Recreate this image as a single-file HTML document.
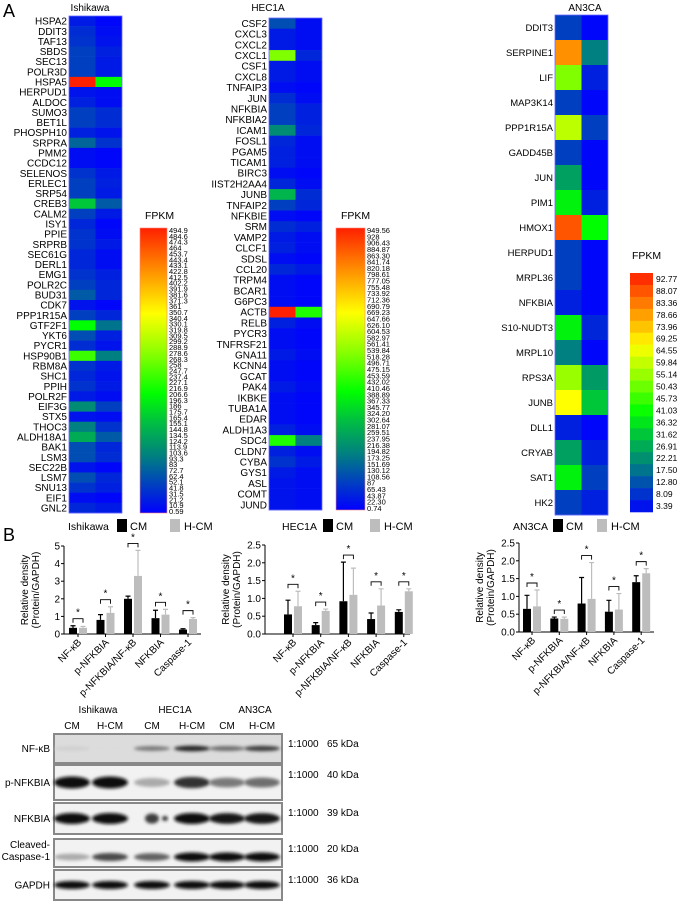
<!DOCTYPE html>
<html><head><meta charset="utf-8">
<style>
html,body{margin:0;padding:0;background:#fff;}
svg{display:block;font-family:"Liberation Sans",Arial,sans-serif;}
</style></head>
<body>
<svg id="fig" width="681" height="902" viewBox="0 0 681 902" xmlns="http://www.w3.org/2000/svg">
<defs>
<filter id="blur" x="-20%" y="-80%" width="140%" height="260%"><feGaussianBlur stdDeviation="1.6"/></filter>
<linearGradient id="jet" x1="0" y1="1" x2="0" y2="0">
<stop offset="0" stop-color="#0000ff"/><stop offset="0.1" stop-color="#0040c0"/><stop offset="0.2" stop-color="#008080"/>
<stop offset="0.32" stop-color="#00c040"/><stop offset="0.42" stop-color="#00ff00"/><stop offset="0.55" stop-color="#80ff00"/>
<stop offset="0.7" stop-color="#ffff00"/><stop offset="0.85" stop-color="#ff9000"/><stop offset="1" stop-color="#ff2000"/>
</linearGradient>
</defs>
<text x="3" y="17" font-size="18">A</text>
<text x="3" y="541" font-size="18">B</text>
</svg>
<script>
// ---------- Heatmap data ----------
const ishGenes = ["HSPA2","DDIT3","TAF13","SBDS","SEC13","POLR3D","HSPA5","HERPUD1","ALDOC","SUMO3","BET1L","PHOSPH10","SRPRA","PMM2","CCDC12","SELENOS","ERLEC1","SRP54","CREB3","CALM2","ISY1","PPIE","SRPRB","SEC61G","DERL1","EMG1","POLR2C","BUD31","CDK7","PPP1R15A","GTF2F1","YKT6","PYCR1","HSP90B1","RBM8A","SHC1","PPIH","POLR2F","EIF3G","STX5","THOC3","ALDH18A1","BAK1","LSM3","SEC22B","LSM7","SNU13","EIF1","GNL2"];
const ishCMHeat = [0.04,0.07,0.08,0.1,0.1,0.1,1,0.03,0.05,0.1,0.1,0.05,0.16,0.02,0.02,0.08,0.1,0.1,0.33,0.1,0.06,0.08,0.08,0.06,0.06,0.08,0.1,0.14,0.03,0.1,0.42,0.12,0.07,0.48,0.08,0.06,0.08,0.04,0.22,0.03,0.2,0.28,0.12,0.12,0.03,0.12,0.08,0.02,0.06];
const ishHCMHeat = [0.01,0.02,0.03,0.05,0.04,0.04,0.42,0.02,0.02,0.07,0.07,0.03,0.08,0.01,0.01,0.04,0.05,0.04,0.14,0.04,0.01,0.02,0.04,0.02,0.02,0.05,0.06,0.06,0.01,0.06,0.18,0.05,0.03,0.2,0.04,0.03,0.04,0.02,0.1,0.02,0.08,0.14,0.06,0.07,0.01,0.06,0.05,0.01,0.04];
const hecGenes = ["CSF2","CXCL3","CXCL2","CXCL1","CSF1","CXCL8","TNFAIP3","JUN","NFKBIA","NFKBIA2","ICAM1","FOSL1","PGAM5","TICAM1","BIRC3","IIST2H2AA4","JUNB","TNFAIP2","NFKBIE","SRM","VAMP2","CLCF1","SDSL","CCL20","TRPM4","BCAR1","G6PC3","ACTB","RELB","PYCR3","TNFRSF21","GNA11","KCNN4","GCAT","PAK4","IKBKE","TUBA1A","EDAR","ALDH1A3","SDC4","CLDN7","CYBA","GYS1","ASL","COMT","JUND"];
const hecCMHeat = [0.12,0.04,0.04,0.55,0.04,0.04,0.02,0.07,0.1,0.1,0.22,0.06,0.05,0.05,0.02,0.06,0.3,0.1,0.02,0.07,0.04,0.05,0.02,0.06,0.02,0.02,0.02,1,0.05,0.02,0.02,0.04,0.02,0.02,0.04,0.02,0.02,0.02,0.05,0.45,0.05,0.08,0.04,0.03,0.03,0.03];
const hecHCMHeat = [0.02,0.02,0.02,0.06,0.02,0.02,0.01,0.02,0.05,0.05,0.06,0.02,0.02,0.02,0.01,0.02,0.07,0.06,0.01,0.05,0.02,0.02,0.01,0.04,0.01,0.01,0.01,0.45,0.02,0.01,0.01,0.02,0.01,0.01,0.02,0.01,0.01,0.01,0.02,0.2,0.02,0.04,0.02,0.02,0.02,0.02];
const anGenes = ["DDIT3","SERPINE1","LIF","MAP3K14","PPP1R15A","GADD45B","JUN","PIM1","HMOX1","HERPUD1","MRPL36","NFKBIA","S10-NUDT3","MRPL10","RPS3A","JUNB","DLL1","CRYAB","SAT1","HK2"];
const anCMHeat = [0.1,0.85,0.55,0.1,0.62,0.1,0.26,0.4,0.93,0.1,0.1,0.05,0.4,0.2,0.58,0.7,0.05,0.26,0.4,0.1];
const anHCMHeat = [0.01,0.2,0.05,0.01,0.1,0.01,0.01,0.05,0.42,0.01,0.01,0.01,0.06,0.01,0.25,0.33,0.01,0.05,0.1,0.05];
const anLegend = ["92.77","88.07","83.36","78.66","73.96","69.25","64.55","59.84","55.14","50.43","45.73","41.03","36.32","31.62","26.91","22.21","17.50","12.80","8.09","3.39"];

// ---------- Bar chart data ----------
const categories = ["NF-κB","p-NFKBIA","p-NFKBIA/NF-κB","NFKBIA","Caspase-1"];
const ishCM = [0.35,0.8,2.0,0.9,0.25];
const ishHCM = [0.35,1.2,3.3,1.1,0.85];
const ishCMErr = [0.12,0.3,0.15,0.45,0.05];
const ishHCMErr = [0.08,0.35,1.45,0.3,0.08];
const ishTicks = ["0","1","2","3","4","5"];
const hecCM = [0.55,0.25,0.92,0.42,0.62];
const hecHCM = [0.78,0.65,1.1,0.8,1.2];
const hecCMErr = [0.4,0.07,1.1,0.17,0.06];
const hecHCMErr = [0.42,0.05,0.75,0.47,0.07];
const anCM = [0.65,0.38,0.8,0.57,1.4];
const anHCM = [0.72,0.37,0.93,0.63,1.65];
const anCMErr = [0.38,0.04,0.73,0.32,0.18];
const anHCMErr = [0.46,0.05,1.02,0.45,0.13];
const decTicks = ["0.0","0.5","1.0","1.5","2.0","2.5"];

// ---------- Blot data ----------
const blotRows = ["NF-κB","p-NFKBIA","NFKBIA","Cleaved-Caspase-1","GAPDH"];
const blotKDa = ["65 kDa","40 kDa","39 kDa","20 kDa","36 kDa"];
const blotInt = [[0.2,0.15,0.55,0.9,0.6,0.8],[1,1,0.35,0.85,0.55,0.6],[1,1,0.8,1,0.95,0.95],[0.35,0.75,0.65,1,1,1],[1,1,1,1,1,1]];

const NS="http://www.w3.org/2000/svg";
const svg=document.getElementById('fig');
function el(tag,attrs,parent){const e=document.createElementNS(NS,tag);for(const k in attrs)e.setAttribute(k,attrs[k]);(parent||svg).appendChild(e);return e;}
function txt(x,y,s,size,anchor,parent){const t=el('text',{x:x,y:y,'font-size':size,'text-anchor':anchor||'start'},parent);t.textContent=s;return t;}

const stops=[[0,[0,0,255]],[0.1,[0,64,192]],[0.2,[0,128,128]],[0.32,[0,192,64]],[0.42,[0,255,0]],[0.55,[128,255,0]],[0.7,[255,255,0]],[0.85,[255,144,0]],[1,[255,32,0]]];
function cmap(v){v=Math.max(0,Math.min(1,v));for(let i=1;i<stops.length;i++){if(v<=stops[i][0]){const a=stops[i-1],b=stops[i];const f=(v-a[0])/(b[0]-a[0]);const c=a[1].map((x,j)=>Math.round(x+(b[1][j]-x)*f));return 'rgb('+c.join(',')+')';}}return 'rgb(255,32,0)';}

function heatmap(name,title,genes,c1,c2,x0,w,top,bottom,fs,titleX){
  const g=el('g',{});
  
  
  const t=txt(titleX,11,title,10,'middle',g);
  
  
  const rh=(bottom-top)/genes.length;
  genes.forEach((gn,i)=>{
    const y=top+i*rh;
    const r1=el('rect',{x:x0,y:y,width:w,height:rh+0.3,fill:cmap(c1[i])},g);
    
    
    const r2=el('rect',{x:x0+w,y:y,width:w,height:rh+0.3,fill:cmap(c2[i])},g);
    
    
    const l=txt(x0-2,y+rh/2+fs*0.36,gn,fs,'end',g);
    
    
  });
  el('rect',{x:x0,y:top,width:2*w,height:bottom-top,fill:'none',stroke:'#6a6aff','stroke-width':0.8},g);
}
heatmap('ishikawa','Ishikawa',ishGenes,ishCMHeat,ishHCMHeat,69,26.5,16,513,10,90);
heatmap('hec1a','HEC1A',hecGenes,hecCMHeat,hecHCMHeat,269,26.5,18,510,10,268);
heatmap('an3ca','AN3CA',anGenes,anCMHeat,anHCMHeat,555,26.5,15,515,9.5,585);

function gradBar(name,x,top,bottom,w,maxV,minV,n,dec){
  const g=el('g',{});
  
  
  const f=txt(x+5,top-9,'FPKM',10.5,'start',g);
  
  
  el('rect',{x:x,y:top,width:w,height:bottom-top,fill:'url(#jet)',stroke:'#ff8080','stroke-width':0.6},g);
  const step=(bottom-top-4)/(n-1);
  for(let i=0;i<n;i++){
    const v=maxV-(maxV-minV)*i/(n-1);
    const s=(i===n-1)?String(minV):(dec?v.toFixed(2):v.toFixed(1)).replace(/\.0+$/,'');
    const t=el('text',{x:x+w+2,y:top+5+i*step,'font-size':7.5,transform:'translate(0,'+(top+5+i*step)*0.0+')'},g);
    t.textContent=s;
    
    
  }
}
gradBar('ishikawa',140,228,513,27,494.9,0.59,49,false);
gradBar('hec1a',336,228,510,29,949.56,0.74,45,true);

(function(){
  const g=el('g',{});
  
  
  const f=txt(632,259,'FPKM',10.5,'start',g);
  
  
  const top=273,h=(512-273)/anLegend.length;
  anLegend.forEach((s,i)=>{
    const v=1-i/(anLegend.length-1);
    const r=el('rect',{x:630,y:top+i*h,width:23,height:h+0.3,fill:cmap(0.03+v*0.95)},g);
    
    
    const t=txt(656,top+i*h+h/2+3,s,8.5,'start',g);
    
    
  });
})();

function barChart(name,title,cm,hcm,cmErr,hcmErr,ticks,ymax,axisX,y0,yTop,firstC,spacing,axisEnd,lg){
  const g=el('g',{});
  
  
  const ys=v=>y0-(v/ymax)*(y0-yTop);
  // legend
  const tt=txt(lg[0],530,title,10.5,'start',g);
  
  
  const s1=el('rect',{x:lg[1],y:519,width:10,height:13,fill:'#000'},g);
  
  
  const l1=txt(lg[1]+13,530,'CM',11,'start',g);
  
  
  const s2=el('rect',{x:lg[2],y:519,width:10,height:13,fill:'#bdbdbd'},g);
  
  
  const l2=txt(lg[2]+14,530,'H-CM',11,'start',g);
  
  
  // axes
  const ax=el('line',{x1:axisX,y1:yTop,x2:axisX,y2:y0,stroke:'#000','stroke-width':1},g);
  
  
  const xx=el('line',{x1:axisX,y1:y0,x2:axisEnd,y2:y0,stroke:'#000','stroke-width':1},g);
  
  
  ticks.forEach((s,i)=>{
    const v=ymax*i/(ticks.length-1),y=ys(v);
    el('line',{x1:axisX-3,y1:y,x2:axisX,y2:y,stroke:'#000'},g);
    const t=txt(axisX-4,y+3.5,s,10,'end',g);
    
    
  });
  const yt=el('text',{transform:'translate('+(axisX-25)+','+(y0+yTop)/2+') rotate(-90)','font-size':10,'text-anchor':'middle'},g);
  
  
  const ts1=el('tspan',{x:0,y:-11},yt);ts1.textContent='Relative density';
  const ts2=el('tspan',{x:0,y:0},yt);ts2.textContent='(Protein/GAPDH)';
  categories.forEach((c,i)=>{
    const cx=axisX+firstC+i*spacing;
    const series=[[cm[i],cmErr[i],cx-9,'#000','cm'],[hcm[i],hcmErr[i],cx+1,'#bdbdbd','hcm']];
    series.forEach(s=>{
      const b=el('rect',{x:s[2],y:ys(s[0]),width:8,height:y0-ys(s[0]),fill:s[3]},g);
      
      
      const et=ys(s[0]+s[1]);
      const e=el('path',{d:'M'+(s[2]+4)+' '+ys(s[0])+'V'+et+'M'+(s[2]+1.5)+' '+et+'H'+(s[2]+6.5),stroke:s[3],'stroke-width':1.2,fill:'none'},g);
      
      
    });
    const top=Math.min(ys(cm[i]+cmErr[i]),ys(hcm[i]+hcmErr[i]));
    const by=top-7;
    const br=el('path',{d:'M'+(cx-5)+' '+(by+4)+'V'+by+'H'+(cx+5)+'V'+(by+4),stroke:'#000','stroke-width':0.9,fill:'none'},g);
    
    
    const st=txt(cx,by-3,'*',10,'middle',g);
    
    
    el('line',{x1:cx,y1:y0,x2:cx,y2:y0+3,stroke:'#000'},g);
    const xl=el('text',{transform:'translate('+(cx+4)+','+(y0+9)+') rotate(-45)','font-size':10,'text-anchor':'end'},g);
    xl.textContent=c;
    
    
  });
}
barChart('ishikawa','Ishikawa',ishCM,ishHCM,ishCMErr,ishHCMErr,ishTicks,5,64,634,546,14,27.5,201,[68,117,170]);
barChart('hec1a','HEC1A',hecCM,hecHCM,hecCMErr,hecHCMErr,decTicks,2.5,265,634,545,28,27.7,410,[282,323,370]);
barChart('an3ca','AN3CA',anCM,anHCM,anCMErr,anHCMErr,decTicks,2.5,519,632,543,13,27.3,654,[513,553,597]);

// ---------- Western blot ----------
(function(){
  const g=el('g',{});
  
  
  [['Ishikawa',98],['HEC1A',175],['AN3CA',255]].forEach(c=>{
    const t=txt(c[1],713,c[0],10,'middle',g);
    
    
  });
  const lanes=[72,110,152,192,227,262];
  lanes.forEach((x,i)=>{
    const t=txt(x,729,i%2?'H-CM':'CM',10,'middle',g);
    
    
  });
  const panels=[[734,763],[765,800],[803,834],[839,867],[870,900]];
  const bh=[6,12,11,9,8];
  panels.forEach((p,r)=>{
    const pg=el('g',{},g);
    
    
    el('rect',{x:54,y:p[0],width:228,height:p[1]-p[0],fill:r===0?'#dcdcdc':'#f2f2f2',stroke:'#888','stroke-width':2},pg);
    const cy=(p[0]+p[1])/2 + (r===3?4:0);
    blotInt[r].forEach((v,i)=>{
      const k=Math.round(255*(1-v*0.95));
      const b=el('ellipse',{cx:lanes[i],cy:cy,rx:r===2&&i===2?7:18,ry:bh[r]/2*(0.6+0.4*v),fill:'rgb('+k+','+k+','+k+')',filter:'url(#blur)'},pg);
      
      
    });
    if(r===2){el('ellipse',{cx:165,cy:cy,rx:3,ry:2.5,fill:'#333',filter:'url(#blur)'},pg);}
    if(r===3){
      const t=el('text',{x:50,y:cy-9,'font-size':10,'text-anchor':'end'},g);
      
      
      const a=el('tspan',{x:50,dy:0},t);a.textContent='Cleaved-';
      const b=el('tspan',{x:50,dy:12},t);b.textContent='Caspase-1';
    } else {
      const t=txt(50,(p[0]+p[1])/2+3.5,blotRows[r],10,'end',g);
      
      
    }
    const ly=p[0]+13;
    const d=txt(288,ly,'1:1000',10,'start',g);
    
    
    const kd=txt(327,ly,blotKDa[r],10,'start',g);
    
    
  });
})();
</script>
</body></html>
